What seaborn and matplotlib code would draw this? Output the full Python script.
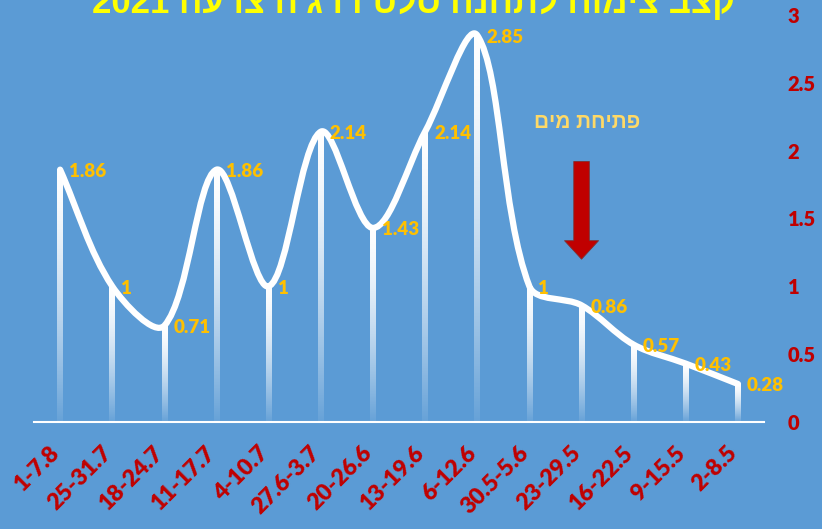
import numpy as np
import pandas as pd
import matplotlib
matplotlib.use('Agg')
import matplotlib.pyplot as plt
from matplotlib.path import Path
from matplotlib.patches import PathPatch
from matplotlib.transforms import ScaledTranslation
import seaborn as sns

# weekly periods (oldest on the right, as in the original sheet)
periods = ['1-7.8', '25-31.7', '18-24.7', '11-17.7', '4-10.7', '27.6-3.7', '20-26.6',
           '13-19.6', '6-12.6', '30.5-5.6', '23-29.5', '16-22.5', '9-15.5', '2-8.5']
growth = [1.86, 1, 0.71, 1.86, 1, 2.14, 1.43, 2.14, 2.85, 1, 0.86, 0.57, 0.43, 0.28]
value_labels = ['1.86', '1', '0.71', '1.86', '1', '2.14', '1.43', '2.14', '2.85',
                '1', '0.86', '0.57', '0.43', '0.28']
y_ticks = [0, 0.5, 1, 1.5, 2, 2.5, 3]

title = "קצב צימוח לתחנה סלט דרג'ה צרעה 2021"
note = 'פתיחת מים'
note_at = '23-29.5'

BG = '#5B9BD5'
RED = '#C00000'
GOLD = '#FFC000'
FONT = ['Lato', 'DejaVu Sans']
HEB = ['Liberation Sans', 'DejaVu Sans']


def rtl(s):
    """matplotlib has no bidi: flip Hebrew words into visual order."""
    words = s.split(' ')[::-1]
    return ' '.join(w if w.isdigit() else w[::-1] for w in words)


df = pd.DataFrame({'period': periods, 'growth': growth})

fig = plt.figure(figsize=(8.22, 5.29), dpi=100, facecolor=BG)
ax = fig.add_axes([0.0414, 0.2023, 0.8881, 0.7694])
ax.set_facecolor(BG)

# thin "drop lines" as narrow bars, later replaced by a white->transparent gradient
sns.barplot(data=df, x='period', y='growth', color='white', width=0.11,
            saturation=1, ax=ax)

n = len(growth)
ax.set_xlim(-0.5, n - 0.5)
ax.set_ylim(0, 3)

t = np.linspace(0, 1, 256)
alpha = 1 - 0.93 * t ** 1.5
grad = np.ones((256, 1, 4))
grad[:, 0, 3] = alpha
centers = []
for p in ax.patches:
    x0, w, h = p.get_x(), p.get_width(), p.get_height()
    centers.append(x0 + w / 2)
    ax.imshow(grad, extent=[x0, x0 + w, 0, h], aspect='auto', origin='upper',
              interpolation='bilinear', zorder=2)
    p.set_visible(False)
ax.set_xlim(-0.5, n - 0.5)
ax.set_ylim(0, 3)

# smoothed line, Excel style: bezier handles weighted by screen segment lengths
pts = ax.transData.transform(np.column_stack([centers, growth]))
verts = [pts[0]]
codes = [Path.MOVETO]
for i in range(n - 1):
    p0 = pts[max(i - 1, 0)]
    p1 = pts[i]
    p2 = pts[i + 1]
    p3 = pts[min(i + 2, n - 1)]
    d01 = np.hypot(*(p1 - p0))
    d12 = np.hypot(*(p2 - p1))
    d23 = np.hypot(*(p3 - p2))
    c1 = p1 + (p2 - p0) * d12 / (d01 + d12) / 3
    c2 = p2 - (p3 - p1) * d12 / (d12 + d23) / 3
    verts += [c1, c2, p2]
    codes += [Path.CURVE4] * 3
verts = ax.transData.inverted().transform(np.array(verts))
ax.add_patch(PathPatch(Path(verts, codes), fill=False, edgecolor='white',
                       lw=4.5, capstyle='round', joinstyle='round', zorder=3))

for xc, v, lab in zip(centers, growth, value_labels):
    ax.annotate(lab, (xc, v), xytext=(9, -2), textcoords='offset pixels',
                ha='left', va='center', color=GOLD, fontsize=13.5,
                fontweight='heavy', family=FONT, zorder=4)

# "water opening" note with a red block arrow
xn = periods.index(note_at)
ax.text(xn + 0.1, 2.21, rtl(note), ha='center', va='center', color='#FFD966',
        fontsize=15, fontweight='bold', family=HEB)
ax.annotate('', xy=(xn, 1.2), xytext=(xn, 1.92),
            arrowprops=dict(arrowstyle='simple,head_length=0.95,head_width=1.75,tail_width=0.8',
                            fc=RED, ec='#7f3030', lw=0.6, shrinkA=0, shrinkB=0,
                            mutation_scale=14), zorder=4)

ax.set_yticks(y_ticks)
ax.set_yticklabels([f'{v:g}' for v in y_ticks])
ax.yaxis.tick_right()
ax.tick_params(axis='y', length=0, pad=17, labelcolor=RED, labelsize=14.5)
ax.tick_params(axis='x', length=0, pad=20, labelcolor=RED, labelsize=16.5)
for lab in ax.get_yticklabels():
    lab.set_fontweight('heavy')
    lab.set_family(FONT)
shift = ScaledTranslation(-4 / 100, 0, fig.dpi_scale_trans)
for lab in ax.get_xticklabels():
    lab.set_rotation(45)
    lab.set_ha('right')
    lab.set_va('center')
    lab.set_rotation_mode('anchor')
    lab.set_fontweight('heavy')
    lab.set_family(FONT)
    lab.set_transform(lab.get_transform() + shift)
ax.set_xlabel('')
ax.set_ylabel('')
for side in ('top', 'left', 'right'):
    ax.spines[side].set_visible(False)
ax.spines['bottom'].set_color('white')
ax.spines['bottom'].set_linewidth(1.5)
ax.grid(False)

# title sits half above the canvas in the source image
fig.text(0.503, 0.996, rtl(title), ha='center', va='center', color='#FFFF00',
         fontsize=25, fontweight='bold', family=HEB)

fig.savefig('out.png', dpi=100, facecolor=BG)
